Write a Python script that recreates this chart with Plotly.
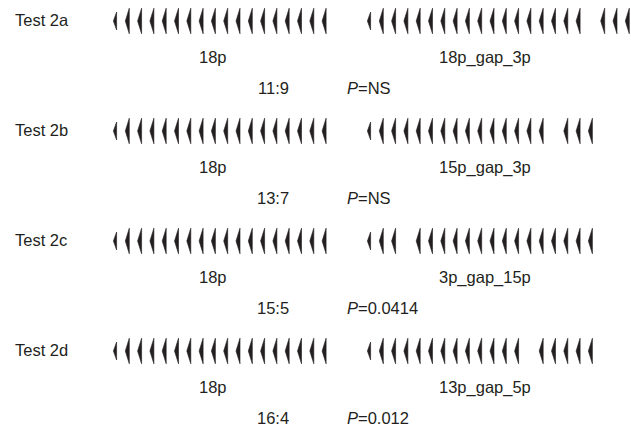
import plotly.graph_objects as go

# ---- data ----
tests = ["Test 2a", "Test 2b", "Test 2c", "Test 2d"]
left_labels = ["18p", "18p", "18p", "18p"]
right_labels = ["18p_gap_3p", "15p_gap_3p", "3p_gap_15p", "13p_gap_5p"]
left_segments = [[18], [18], [18], [18]]
right_segments = [[18, 3], [15, 3], [3, 15], [13, 5]]
ratios = ["11:9", "13:7", "15:5", "16:4"]
p_values = ["NS", "NS", "0.0414", "0.012"]

# ---- layout constants (pixel-like coordinate system) ----
W, H = 631, 432
row_y0, row_step = 21, 110
period = 12.3
left_start, right_start = 115.0, 369.0
gap_slots = 1
ink = "#231f20"
font = "Liberation Sans, Arial, Helvetica, sans-serif"


def pulse(xc, yc, first):
    h = 9.0 if first else 12.8
    w = 3.2 if first else 4.0
    xr = xc + w / 2
    xs = [xr, xr - w * 0.5, xr - w, xr - w * 0.5, xr, xr]
    ys = [yc - h, yc - h * 0.5, yc, yc + h * 0.5, yc + h, yc - h]
    return xs, ys


def group_pulses(start, segments, yc):
    out = []
    slot = 0
    for n in segments:
        for i in range(n):
            out.append(pulse(start + slot * period, yc, slot == 0))
            slot += 1
        slot += gap_slots
    return out


fig = go.Figure()
ann = []
for r, name in enumerate(tests):
    yc = row_y0 + r * row_step
    for start, segs in ((left_start, left_segments[r]), (right_start, right_segments[r])):
        for xs, ys in group_pulses(start, segs, yc):
            fig.add_trace(go.Scatter(x=xs, y=ys, mode="lines", fill="toself",
                                     fillcolor=ink, line=dict(color=ink, width=0.6),
                                     hoverinfo="skip", showlegend=False))
    ann.append(dict(x=13, y=yc - 1, text=name, xanchor="left", yanchor="middle"))
    ann.append(dict(x=213, y=yc + 36, text=left_labels[r], xanchor="center", yanchor="middle"))
    ann.append(dict(x=485, y=yc + 36, text=right_labels[r], xanchor="center", yanchor="middle"))
    ann.append(dict(x=291, y=yc + 67, text=ratios[r], xanchor="right", yanchor="middle"))
    ann.append(dict(x=345, y=yc + 67, text="<i>P</i>=" + p_values[r], xanchor="left", yanchor="middle"))

for a in ann:
    a.update(xref="x", yref="y", showarrow=False,
             font=dict(family=font, size=16.5, color=ink))

fig.update_layout(
    width=W, height=H,
    margin=dict(l=0, r=0, t=0, b=0),
    paper_bgcolor="white", plot_bgcolor="white",
    xaxis=dict(range=[0, W], visible=False, fixedrange=True),
    yaxis=dict(range=[H, 0], visible=False, fixedrange=True),
    annotations=ann,
)
fig.write_html(
    "out.html",
    config={"displayModeBar": False},
    post_script="document.body.style.margin='0px';document.body.style.overflow='hidden';",
)
